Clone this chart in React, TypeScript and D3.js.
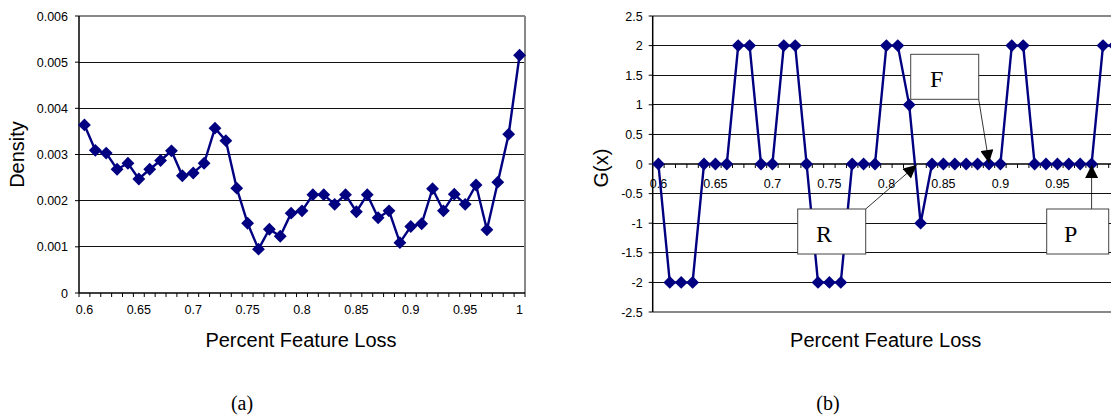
import * as d3 from "d3";

// categories on both x axes (percent feature loss)
const categories = [
  "0.6", "0.61", "0.62", "0.63", "0.64", "0.65", "0.66", "0.67", "0.68", "0.69",
  "0.7", "0.71", "0.72", "0.73", "0.74", "0.75", "0.76", "0.77", "0.78", "0.79",
  "0.8", "0.81", "0.82", "0.83", "0.84", "0.85", "0.86", "0.87", "0.88", "0.89",
  "0.9", "0.91", "0.92", "0.93", "0.94", "0.95", "0.96", "0.97", "0.98", "0.99", "1",
];
const xTickLabels = ["0.6", "0.65", "0.7", "0.75", "0.8", "0.85", "0.9", "0.95", "1"];

// (a) density
const density = [
  0.00364, 0.00309, 0.00303, 0.00268, 0.00281, 0.00247, 0.00268, 0.00287, 0.00308, 0.00254,
  0.0026, 0.00281, 0.00357, 0.0033, 0.00227, 0.00151, 0.00095, 0.00138, 0.00123, 0.00173,
  0.00178, 0.00213, 0.00213, 0.00192, 0.00213, 0.00176, 0.00213, 0.00163, 0.00178, 0.00109,
  0.00144, 0.0015, 0.00226, 0.00178, 0.00214, 0.00192, 0.00234, 0.00137, 0.0024, 0.00344, 0.00515,
];
const densityTicks = [0, 0.001, 0.002, 0.003, 0.004, 0.005, 0.006];
const densityTickLabels = ["0", "0.001", "0.002", "0.003", "0.004", "0.005", "0.006"];

// (b) G(x)
const gValues = [
  0, -2, -2, -2, 0, 0, 0, 2, 2, 0,
  0, 2, 2, 0, -2, -2, -2, 0, 0, 0,
  2, 2, 1, -1, 0, 0, 0, 0, 0, 0,
  0, 2, 2, 0, 0, 0, 0, 0, 0, 2, 2,
];
const gTicks = [-2.5, -2, -1.5, -1, -0.5, 0, 0.5, 1, 1.5, 2, 2.5];

const NAVY = "#000080";
const SANS = "'Liberation Sans', Arial, sans-serif";
const SERIF = "'Liberation Serif', 'Times New Roman', serif";
const diamond = d3.symbol(d3.symbolDiamond2, 105)();

function DensityChart() {
  const left = 79, right = 525, top = 16, bottom = 293;
  const x = d3.scaleBand<string>().domain(categories).range([left, right]);
  const y = d3.scaleLinear().domain([0, 0.006]).range([bottom, top]);
  const cx = (c: string) => (x(c) as number) + x.bandwidth() / 2;
  const line = d3.line<number>().x((_, i) => cx(categories[i])).y(d => y(d));
  const edges = [...categories.map(c => x(c) as number), right];

  return (
    <g>
      {densityTicks.slice(1, -1).map(t => (
        <line key={t} x1={left} x2={right} y1={y(t)} y2={y(t)} stroke="#111" shapeRendering="crispEdges" />
      ))}
      <line x1={left} x2={right} y1={top} y2={top} stroke="#888" strokeWidth={2} />
      <line x1={right} x2={right} y1={top} y2={bottom} stroke="#888" strokeWidth={2} />
      <line x1={left} x2={left} y1={top} y2={bottom} stroke="#000" strokeWidth={1.5} />
      <line x1={left} x2={right} y1={bottom} y2={bottom} stroke="#000" strokeWidth={1.5} />
      {densityTicks.map((t, i) => (
        <g key={t}>
          <line x1={left - 4} x2={left} y1={y(t)} y2={y(t)} stroke="#000" />
          <text x={68} y={y(t) + 4.5} textAnchor="end" fontSize={12.5} fontFamily={SANS}>
            {densityTickLabels[i]}
          </text>
        </g>
      ))}
      {edges.map((e, i) => (
        <line key={i} x1={e} x2={e} y1={bottom} y2={bottom + 4} stroke="#000" />
      ))}
      {xTickLabels.map(l => (
        <text key={l} x={cx(l)} y={314} textAnchor="middle" fontSize={12.5} fontFamily={SANS}>{l}</text>
      ))}
      <path d={line(density) as string} fill="none" stroke={NAVY} strokeWidth={2.4} />
      {density.map((d, i) => (
        <path key={i} d={diamond as string} transform={`translate(${cx(categories[i])},${y(d)})`} fill={NAVY} />
      ))}
      <text transform={`translate(24,${(top + bottom) / 2}) rotate(-90)`} textAnchor="middle" fontSize={20} fontFamily={SANS}>
        Density
      </text>
      <text x={301} y={347} textAnchor="middle" fontSize={20} fontFamily={SANS}>Percent Feature Loss</text>
      <text x={242} y={410} textAnchor="middle" fontSize={20} fontFamily={SERIF}>(a)</text>
    </g>
  );
}

function GChart() {
  const left = 652.7, right = 652.7 + 41 * 11.4, top = 16, bottom = 312;
  const x = d3.scaleBand<string>().domain(categories).range([left, right]);
  const y = d3.scaleLinear().domain([-2.5, 2.5]).range([bottom, top]);
  const cx = (c: string) => (x(c) as number) + x.bandwidth() / 2;
  const line = d3.line<number>().x((_, i) => cx(categories[i])).y(d => y(d));
  const edges = [...categories.map(c => x(c) as number), right];
  const y0 = y(0);

  return (
    <g>
      {gTicks.slice(1, -1).filter(t => t !== 0).map(t => (
        <line key={t} x1={left} x2={right} y1={y(t)} y2={y(t)} stroke="#111" shapeRendering="crispEdges" />
      ))}
      <line x1={left} x2={right} y1={top} y2={top} stroke="#888" strokeWidth={2} />
      <line x1={left} x2={right} y1={bottom} y2={bottom} stroke="#888" strokeWidth={2} />
      <line x1={left} x2={left} y1={top} y2={bottom} stroke="#000" strokeWidth={1.5} />
      <line x1={left} x2={right} y1={y0} y2={y0} stroke="#000" strokeWidth={1.5} />
      {gTicks.map(t => (
        <g key={t}>
          <line x1={left - 4} x2={left} y1={y(t)} y2={y(t)} stroke="#000" />
          <text x={642.7} y={y(t) + 4.5} textAnchor="end" fontSize={12.5} fontFamily={SANS}>{t}</text>
        </g>
      ))}
      {edges.map((e, i) => (
        <line key={i} x1={e} x2={e} y1={y0} y2={y0 + 4} stroke="#000" />
      ))}
      {/* the last label falls outside the visible page, as in the original crop */}
      {xTickLabels.filter(l => cx(l) < 1100).map(l => (
        <text key={l} x={cx(l)} y={187.5} textAnchor="middle" fontSize={12.5} fontFamily={SANS}>{l}</text>
      ))}
      <path d={line(gValues) as string} fill="none" stroke={NAVY} strokeWidth={2.4} />
      {gValues.map((d, i) => (
        <path key={i} d={diamond as string} transform={`translate(${cx(categories[i])},${y(d)})`} fill={NAVY} />
      ))}

      {/* annotations */}
      <line x1={978.7} y1={99.3} x2={cx("0.89")} y2={y0 - 1} stroke="#000" strokeWidth={0.8} markerEnd="url(#arrow)" />
      <line x1={865.7} y1={209} x2={cx("0.83") - 4} y2={y0 + 1} stroke="#000" strokeWidth={0.8} markerEnd="url(#arrow)" />
      <line x1={cx("0.98")} y1={209} x2={cx("0.98")} y2={y0 + 1} stroke="#000" strokeWidth={0.8} markerEnd="url(#arrow)" />

      <rect x={910.7} y={54.3} width={68} height={45} fill="#fff" stroke="#444" />
      <text x={930} y={87.3} fontSize={24} fontFamily={SERIF}>F</text>
      <rect x={797.7} y={209} width={68} height={45} fill="#fff" stroke="#444" />
      <text x={816} y={242.3} fontSize={24} fontFamily={SERIF}>R</text>
      <rect x={1046.7} y={209} width={62} height={45} fill="#fff" stroke="#444" />
      <text x={1064} y={242.3} fontSize={24} fontFamily={SERIF}>P</text>

      <text transform={`translate(608,168) rotate(-90)`} textAnchor="middle" fontSize={20} fontFamily={SANS}>G(x)</text>
      <text x={885.7} y={347} textAnchor="middle" fontSize={20} fontFamily={SANS}>Percent Feature Loss</text>
      <text x={828} y={410} textAnchor="middle" fontSize={20} fontFamily={SERIF}>(b)</text>
    </g>
  );
}

export default function App() {
  return (
    <svg width={1111} height={417} style={{ position: "absolute", left: 0, top: 0, background: "#fff" }}>
      <defs>
        <marker id="arrow" viewBox="0 0 10 10" refX={10} refY={5} markerWidth={14} markerHeight={13}
          markerUnits="userSpaceOnUse" orient="auto">
          <path d="M0,0L10,5L0,10Z" fill="#000" />
        </marker>
      </defs>
      <DensityChart />
      <GChart />
    </svg>
  );
}
